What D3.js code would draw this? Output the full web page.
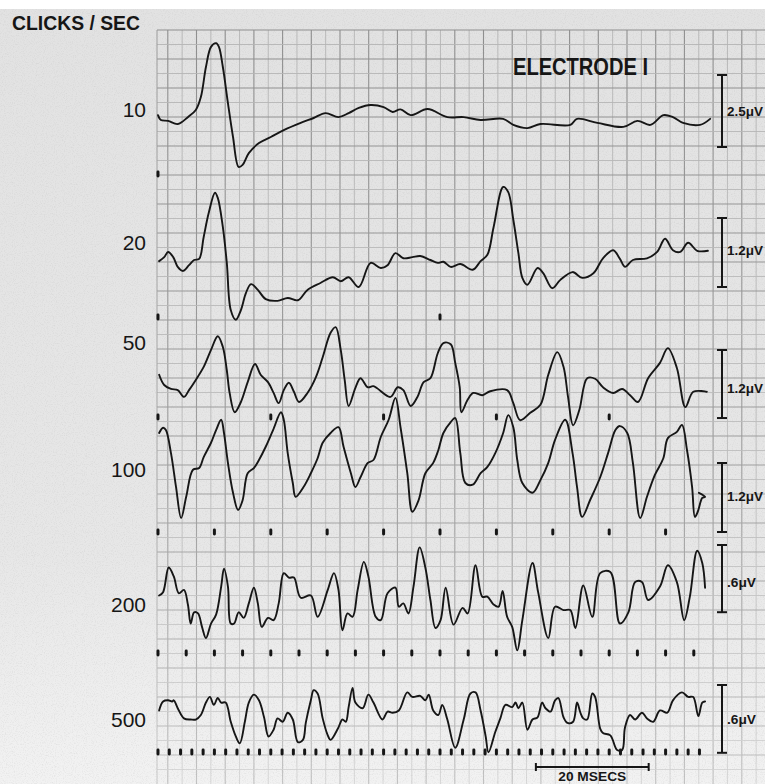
<!DOCTYPE html>
<html>
<head>
<meta charset="utf-8">
<script src="https://cdn.jsdelivr.net/npm/d3@7"></script>
<style>
  html, body { margin: 0; padding: 0; background: #fff; }
  svg { display: block; }
</style>
</head>
<body>
<svg id="chart" width="765" height="784"></svg>
<script>
// Averaged evoked responses, electrode 1, at six click rates.
// Each response is a list of [time in ms, amplitude in µV].
const rates = [10, 20, 50, 100, 200, 500];                 // clicks per second
const rateLabels = ["10", "20", "50", "100", "200", "500"];
const calibrationValues = [2.5, 1.2, 1.2, 1.2, 0.6, 0.6];   // µV
const calibrationLabels = ["2.5\u03bcV", "1.2\u03bcV", "1.2\u03bcV", "1.2\u03bcV", ".6\u03bcV", ".6\u03bcV"];
const sweepMs = 98;          // length of each sweep
const timeBarMs = 20;        // time calibration
const timeBarStartMs = 67;

const response10 = [[0,0.10],[0.5,-0.07],[1.8,-0.10],[3.5,-0.21],[5.3,0.03],[6.7,0.28],[7.6,0.73],[8.5,1.77],[9.4,2.47],[10.3,2.60],[10.8,2.47],[11.5,1.77],[12.4,0.52],[13.3,-0.66],[14.3,-1.70],[15.0,-1.63],[16.1,-1.22],[17.9,-0.87],[20.0,-0.66],[22.3,-0.42],[25.3,-0.17],[27.6,0],[29.7,0.17],[32.0,0.03],[33.8,0.17],[35.6,0.35],[37.7,0.45],[40.0,0.38],[41.6,0.21],[43.0,0.30],[44.8,0.10],[47.8,0.31],[51.3,0.03],[54.2,0.03],[57.2,-0.07],[61.2,-0.03],[63.0,-0.24],[65.5,-0.35],[67.8,-0.21],[73.1,-0.24],[74.3,-0.03],[77.9,-0.17],[82.5,-0.31],[85.0,-0.10],[87.3,-0.24],[89.6,0.10],[91.3,0.03],[93.1,-0.17],[96.1,-0.24],[97.9,-0.03]];

const response20 = [[0.2,-0.02],[1.1,0.05],[1.8,0.14],[2.7,0.05],[3.5,-0.12],[4.4,-0.19],[5.5,-0.09],[6.4,0],[7.3,0.02],[8.1,0.40],[9.0,0.82],[10.1,1.17],[10.6,1.08],[11.5,0.57],[12.2,-0.05],[12.9,-0.87],[13.8,-1.04],[14.7,-0.87],[15.6,-0.57],[16.5,-0.42],[17.7,-0.52],[19.1,-0.68],[21.2,-0.71],[23.0,-0.66],[24.8,-0.70],[26.5,-0.52],[28.8,-0.40],[31.0,-0.30],[32.4,-0.37],[33.8,-0.30],[35.6,-0.47],[37.7,-0.05],[39.5,-0.14],[40.7,-0.09],[42.1,0.12],[43.5,0.03],[45.1,0.05],[46.5,0.07],[48.3,0],[49.6,-0.05],[50.6,-0.03],[51.9,-0.12],[53.6,-0.07],[55.8,-0.17],[57.2,-0.02],[58.4,0.09],[59.5,0.57],[61.2,1.27],[62.1,1.18],[63.0,0.70],[63.9,0.12],[64.6,-0.31],[65.5,-0.43],[67.3,-0.14],[68.3,-0.23],[69.9,-0.49],[71.3,-0.35],[73.5,-0.21],[75.2,-0.31],[77.2,-0.23],[78.9,0.03],[80.7,0.17],[81.9,0.02],[82.8,-0.12],[84.2,0],[86.7,0.03],[88.5,0.14],[89.9,0.37],[91.3,0.17],[92.6,0.14],[94.0,0.30],[95.6,0.16],[97.5,0.16]];

const response50 = [[0.2,0.18],[1.1,0],[2.3,-0.07],[3.5,-0.09],[4.6,-0.21],[5.5,-0.09],[6.7,0.09],[8.1,0.32],[9.4,0.62],[10.6,0.86],[11.5,0.67],[12.2,0.26],[12.7,-0.14],[13.6,-0.48],[14.7,-0.30],[15.9,0.05],[17.2,0.37],[18.2,0.18],[19.5,0.05],[20.5,-0.14],[21.4,-0.32],[22.3,-0.09],[23.2,0.04],[24.1,-0.12],[25.0,-0.30],[26.5,-0.14],[28.0,0.14],[29.2,0.49],[30.6,0.92],[31.5,1.02],[32.4,0.62],[33.1,0.09],[33.8,-0.37],[35.0,-0.05],[35.9,0.12],[37.2,-0.04],[38.2,-0.02],[41.2,-0.21],[42.5,-0.04],[43.5,-0.09],[44.8,-0.37],[46.0,-0.21],[47.1,0.05],[48.3,0.12],[49.6,0.56],[50.6,0.74],[51.9,0.72],[52.7,0.39],[53.5,-0.04],[53.8,-0.48],[54.9,-0.26],[55.9,-0.14],[57.5,-0.18],[58.9,-0.11],[61.9,-0.09],[63.0,-0.32],[64.2,-0.62],[66.0,-0.49],[67.8,-0.35],[69.2,0.18],[70.8,0.58],[71.9,0.32],[72.7,-0.21],[73.6,-0.71],[74.7,-0.44],[76.1,0.12],[77.5,0.11],[78.9,-0.04],[80.7,-0.14],[82.3,-0.07],[83.7,-0.18],[85.1,-0.30],[86.9,0.12],[89.0,0.39],[90.4,0.65],[92.0,0.30],[93.5,-0.39],[94.9,-0.12],[97.3,-0.12]];

const response100 = [[0.2,0.47],[0.9,0.56],[1.4,0.52],[2.3,0.12],[3.2,-0.47],[4.1,-1.01],[5.0,-0.64],[6.2,-0.17],[7.3,-0.14],[8.1,0.05],[9.4,0.30],[10.3,0.52],[11.2,0.70],[11.7,0.47],[12.4,-0.05],[13.3,-0.57],[14.2,-0.87],[15.0,-0.70],[15.9,-0.23],[17.0,-0.14],[17.9,0],[19.1,0.23],[20.4,0.52],[21.8,0.83],[22.3,0.70],[23.0,0.12],[23.9,-0.40],[24.4,-0.64],[25.8,-0.47],[27.1,-0.23],[28.3,0.03],[29.2,0.30],[30.6,0.47],[32.0,0.57],[32.9,0.23],[34.2,-0.23],[35.0,-0.47],[35.9,-0.30],[37.2,-0.05],[38.2,0],[39.5,0.40],[40.9,0.70],[42.1,1.08],[43.0,0.57],[44.2,-0.23],[45.1,-0.90],[46.2,-0.70],[47.4,-0.23],[48.8,-0.05],[49.7,0.17],[50.6,0.47],[51.9,0.66],[52.7,0.73],[53.6,0.12],[54.5,-0.40],[55.8,-0.43],[57.2,-0.23],[58.4,-0.12],[59.8,0.12],[61.2,0.47],[62.1,0.78],[63.0,0.57],[63.7,0],[64.6,-0.40],[66.4,-0.57],[67.8,-0.35],[69.2,-0.05],[70.4,0.35],[72.2,0.70],[73.5,0.12],[74.3,-0.47],[75.2,-0.99],[76.6,-0.70],[78.4,-0.30],[79.8,0.12],[81.1,0.52],[81.9,0.59],[83.2,0.47],[84.2,-0.05],[85.5,-1.01],[86.7,-0.64],[88.1,-0.26],[89.6,0.03],[90.4,0.38],[92.0,0.49],[92.9,0.61],[93.8,0.17],[94.7,-0.47],[95.2,-0.99],[95.7,-0.90],[96.5,-0.66],[97.0,-0.64],[95.9,-0.57]];

const response200 = [[0.2,0.04],[0.9,0.07],[1.9,0.29],[2.8,0.21],[3.7,0.06],[4.6,0.09],[5.3,-0.04],[5.8,-0.21],[6.4,-0.11],[7.1,-0.12],[7.8,-0.24],[8.5,-0.34],[9.4,-0.21],[10.3,-0.13],[11.2,0.12],[11.7,0.28],[12.4,0.12],[12.9,-0.21],[13.5,-0.21],[14.3,-0.11],[15.2,-0.16],[16.1,-0.03],[17.0,0.11],[17.7,-0.03],[18.4,-0.24],[19.5,-0.16],[20.5,-0.18],[21.4,-0.03],[22.3,0.24],[23.2,0.20],[24.1,0.20],[25.3,0.02],[27.1,0.04],[28.3,-0.15],[30.1,0.09],[31.2,0.24],[32.0,0.09],[32.7,-0.27],[33.6,-0.12],[34.5,-0.15],[35.4,0.09],[36.5,0.34],[37.3,0.21],[38.6,-0.15],[39.5,-0.18],[40.7,0.06],[42.1,0.11],[42.7,-0.06],[43.5,-0.03],[44.4,-0.12],[45.3,0.12],[46.4,0.47],[47.4,0.29],[48.3,0],[49.2,-0.25],[50.1,-0.18],[51.0,0.11],[52.4,-0.22],[54.0,-0.07],[54.9,-0.12],[56.3,0.31],[57.5,0.03],[58.4,0.03],[59.5,-0.04],[60.4,-0.06],[61.1,0.08],[61.9,-0.15],[62.8,-0.24],[63.7,-0.45],[64.6,-0.18],[66.4,0.33],[67.4,0.07],[69.2,-0.34],[70.4,-0.06],[71.9,-0.09],[73.1,-0.09],[74.0,-0.25],[75.4,0.13],[77.0,-0.15],[78.4,0.24],[80.2,0.25],[81.9,-0.21],[83.4,-0.11],[84.6,0.16],[85.8,0.16],[86.9,0],[89.0,0.12],[90.4,0.31],[92.0,0.16],[93.3,-0.18],[94.3,0.03],[95.6,0.44],[96.5,0.33],[97.0,0.11]];

const response500 = [[0.2,0.04],[0.9,0.12],[1.8,0.13],[2.5,0.12],[2.8,0.13],[3.5,0.06],[4.6,-0.03],[5.8,-0.04],[6.7,-0.04],[7.6,0],[8.5,0.11],[9.2,0.16],[9.9,0.09],[10.6,0.15],[11.2,0.11],[12.0,0.11],[12.9,-0.06],[13.8,-0.19],[14.5,-0.25],[15.4,-0.06],[16.1,0.11],[17.0,0.18],[17.9,0.13],[18.8,-0.02],[19.6,-0.19],[20.5,-0.13],[21.2,-0.03],[22.1,-0.06],[23.0,0.02],[23.9,-0.04],[24.8,-0.24],[25.7,-0.22],[26.2,-0.07],[27.1,0.13],[27.6,0.22],[28.3,0.19],[29.2,-0.03],[30.1,-0.18],[30.6,-0.22],[31.9,-0.12],[32.7,-0.04],[33.3,-0.06],[33.8,0.07],[34.5,0.24],[35.0,0.11],[36.3,0.06],[37.3,0.18],[38.2,0.11],[39.8,-0.04],[40.7,0.03],[41.6,0.02],[42.7,0.04],[44.2,0.20],[45.1,0.16],[46.5,0.17],[47.4,0.13],[48.0,0.18],[48.8,0.04],[49.7,0],[50.4,0.09],[51.3,-0.04],[52.7,-0.29],[54.2,-0.04],[55.4,0.19],[56.3,0.20],[57.2,0.04],[58.1,-0.19],[58.6,-0.33],[59.8,-0.15],[60.7,-0.03],[61.6,0.09],[62.8,0.07],[63.4,0.11],[63.9,0.06],[64.6,0.11],[65.5,-0.13],[66.4,-0.04],[67.3,-0.02],[68.1,0.11],[68.7,0.06],[69.6,0.03],[70.4,0.13],[71.0,0.15],[71.9,-0.02],[72.6,-0.07],[73.6,-0.06],[74.3,0.11],[74.9,0.02],[75.4,-0.03],[76.1,-0.04],[77.0,0.19],[77.5,0.16],[78.4,-0.12],[78.9,-0.16],[80.2,-0.18],[81.4,-0.31],[82.3,-0.31],[82.8,-0.11],[83.7,0],[84.6,-0.04],[85.8,0.02],[86.7,-0.03],[87.8,-0.06],[89.0,0.04],[90.3,0.02],[91.3,0.13],[92.9,0.20],[94.0,0.16],[94.9,0.16],[95.8,-0.01],[96.5,0.11],[97.0,0.12]];

const responses = [response10, response20, response50, response100, response200, response500];

// ---- layout ----
const W = 765, H = 784;
const rowLayout = [
  { zeroY: 118, pxPerUV: 28.8, barTop: 75,  tickY: 174, labelY: 117, calY: 111 },
  { zeroY: 260, pxPerUV: 57.5, barTop: 218, tickY: 317, labelY: 250, calY: 250 },
  { zeroY: 385, pxPerUV: 56.7, barTop: 350, tickY: 417, labelY: 350, calY: 388 },
  { zeroY: 460, pxPerUV: 57.5, barTop: 463, tickY: 532, labelY: 477, calY: 496 },
  { zeroY: 600, pxPerUV: 112,  barTop: 545, tickY: 653, labelY: 612, calY: 582 },
  { zeroY: 715, pxPerUV: 113,  barTop: 685, tickY: 752, labelY: 727, calY: 719 }
];
const ink = "#161616";
const barX = 722;

const svg = d3.select("#chart");
const x = d3.scaleLinear().domain([0, sweepMs]).range([158, 158 + sweepMs * 5.64]);

// ---- chart paper ----
const defs = svg.append("defs");
const paperGrad = defs.append("linearGradient").attr("id", "paper").attr("x1", 0).attr("y1", 0).attr("x2", 0).attr("y2", 1);
paperGrad.append("stop").attr("offset", "0%").attr("stop-color", "#e2e2e2");
paperGrad.append("stop").attr("offset", "70%").attr("stop-color", "#e7e7e7");
paperGrad.append("stop").attr("offset", "100%").attr("stop-color", "#f2f2f2");
const fadeGrad = defs.append("linearGradient").attr("id", "fade").attr("x1", 0).attr("y1", 0).attr("x2", 0).attr("y2", 1);
fadeGrad.append("stop").attr("offset", "0%").attr("stop-color", "#fff");
fadeGrad.append("stop").attr("offset", "60%").attr("stop-color", "#ccc");
fadeGrad.append("stop").attr("offset", "100%").attr("stop-color", "#777");
defs.append("mask").attr("id", "gridMask")
  .append("rect").attr("x", 0).attr("y", 0).attr("width", W).attr("height", H).attr("fill", "url(#fade)");
// paper grain
const grain = defs.append("filter").attr("id", "grain").attr("x", 0).attr("y", 0).attr("width", "100%").attr("height", "100%");
grain.append("feTurbulence").attr("type", "fractalNoise").attr("baseFrequency", 0.9).attr("numOctaves", 2).attr("seed", 3).attr("result", "n");
grain.append("feColorMatrix").attr("type", "matrix")
  .attr("values", "0 0 0 0 0.45  0 0 0 0 0.45  0 0 0 0 0.45  1.6 0 0 0 -0.75");

svg.append("rect").attr("width", W).attr("height", H).attr("fill", "#fff");
svg.append("rect").attr("x", 0).attr("y", 9).attr("width", W).attr("height", H - 9).attr("fill", "url(#paper)");
svg.append("rect").attr("x", 0).attr("y", 9).attr("width", W).attr("height", H - 9)
  .attr("filter", "url(#grain)").attr("opacity", 0.35);

const grid = svg.append("g").attr("mask", "url(#gridMask)");
const gx0 = 157, gy0 = 30, cell = 14.35;
const vLines = d3.range(gx0 + 10.8, W, cell);
const hLines = d3.range(gy0, H, 14.5);
grid.selectAll(".v").data(vLines).join("line")
  .attr("x1", d => d).attr("x2", d => d).attr("y1", gy0).attr("y2", H)
  .attr("stroke", (d, i) => i % 2 === 0 ? "#8d8d8d" : "#b3b3b3")
  .attr("stroke-width", (d, i) => i % 2 === 0 ? 1.1 : 0.9);
grid.selectAll(".h").data(hLines).join("line")
  .attr("x1", gx0).attr("x2", W).attr("y1", d => d).attr("y2", d => d)
  .attr("stroke", (d, i) => i % 2 === 0 ? "#8d8d8d" : "#b3b3b3")
  .attr("stroke-width", (d, i) => i % 2 === 0 ? 1.1 : 0.9);
grid.append("line").attr("x1", gx0).attr("x2", gx0).attr("y1", gy0).attr("y2", H)
  .attr("stroke", "#9a9a9a").attr("stroke-width", 1);

// ---- headings ----
svg.append("text").attr("x", 12).attr("y", 30)
  .attr("font-family", "Liberation Sans, Arial, sans-serif").attr("font-weight", "bold")
  .attr("font-size", 21).attr("fill", ink)
  .attr("textLength", 128).attr("lengthAdjust", "spacingAndGlyphs")
  .text("CLICKS / SEC");
svg.append("text").attr("x", 513).attr("y", 75)
  .attr("font-family", "Liberation Sans, Arial, sans-serif").attr("font-weight", "bold")
  .attr("font-size", 24).attr("fill", ink)
  .attr("textLength", 135).attr("lengthAdjust", "spacingAndGlyphs")
  .text("ELECTRODE  I");

// ---- one row per click rate ----
rates.forEach((rate, i) => {
  const L = rowLayout[i];
  const y = d3.scaleLinear().domain([0, 1]).range([L.zeroY, L.zeroY - L.pxPerUV]);
  const g = svg.append("g");

  // rate label
  g.append("text").attr("x", 146).attr("y", L.labelY)
    .attr("text-anchor", "end")
    .attr("font-family", "Liberation Sans, Arial, sans-serif").attr("font-size", 21)
    .attr("fill", ink)
    .text(rateLabels[i]);

  // response trace
  const line = d3.line().x(d => x(d[0])).y(d => y(d[1])).curve(d3.curveCatmullRom.alpha(0.5));
  g.append("path").datum(responses[i]).attr("d", line)
    .attr("fill", "none").attr("stroke", ink).attr("stroke-width", 1.9)
    .attr("stroke-linejoin", "round").attr("stroke-linecap", "round");

  // click markers
  const clicks = d3.range(0, 97, 1000 / rate);
  g.selectAll(".click").data(clicks).join("rect")
    .attr("x", d => x(d) - 1.5).attr("y", L.tickY - 3.5)
    .attr("width", 3).attr("height", 7).attr("rx", 1.4)
    .attr("fill", ink);

  // amplitude calibration bar
  const barLen = y(0) - y(calibrationValues[i]);
  const y1 = L.barTop, y2 = L.barTop + barLen;
  g.append("line").attr("x1", barX).attr("x2", barX).attr("y1", y1).attr("y2", y2)
    .attr("stroke", ink).attr("stroke-width", 2);
  [y1, y2].forEach(yy => g.append("line")
    .attr("x1", barX - 5).attr("x2", barX + 5).attr("y1", yy).attr("y2", yy)
    .attr("stroke", ink).attr("stroke-width", 2));
  g.append("text").attr("x", barX + 5).attr("y", L.calY).attr("dy", "0.35em")
    .attr("font-family", "Liberation Sans, Arial, sans-serif").attr("font-size", 13)
    .attr("font-weight", "bold").attr("fill", ink)
    .attr("textLength", calibrationLabels[i].length > 4 ? 36 : 29).attr("lengthAdjust", "spacingAndGlyphs")
    .text(calibrationLabels[i]);
});

// ---- time calibration ----
const tb = svg.append("g");
const tx1 = x(timeBarStartMs), tx2 = x(timeBarStartMs + timeBarMs), ty = 767;
tb.append("line").attr("x1", tx1).attr("x2", tx2).attr("y1", ty).attr("y2", ty)
  .attr("stroke", ink).attr("stroke-width", 2);
[tx1, tx2].forEach(xx => tb.append("line").attr("x1", xx).attr("x2", xx)
  .attr("y1", ty - 4).attr("y2", ty + 4).attr("stroke", ink).attr("stroke-width", 2));
tb.append("text").attr("x", (tx1 + tx2) / 2).attr("y", 781)
  .attr("text-anchor", "middle")
  .attr("font-family", "Liberation Sans, Arial, sans-serif").attr("font-weight", "bold")
  .attr("font-size", 13).attr("fill", ink)
  .attr("textLength", 68).attr("lengthAdjust", "spacingAndGlyphs")
  .text(timeBarMs + " MSECS");
</script>
</body>
</html>
